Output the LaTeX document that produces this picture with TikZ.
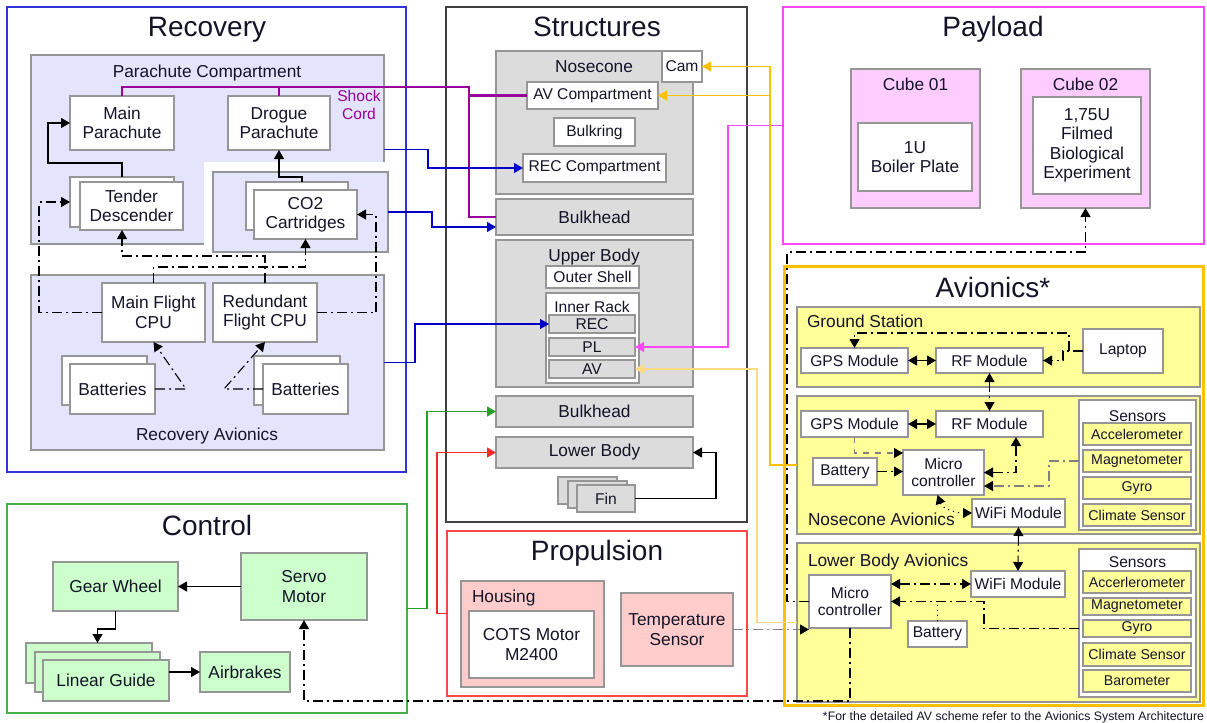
\documentclass[tikz,border=0pt]{standalone}
\usepackage{fontspec}
\setmainfont{Liberation Sans}
\usetikzlibrary{arrows.meta}

\definecolor{txt}{RGB}{20,20,40}
\definecolor{recblue}{RGB}{50,50,220}
\definecolor{lav}{RGB}{228,228,252}
\definecolor{bord}{RGB}{150,150,150}
\definecolor{gfill}{RGB}{220,220,220}
\definecolor{ctlgreen}{RGB}{70,175,70}
\definecolor{lgreen}{RGB}{204,255,204}
\definecolor{propred}{RGB}{255,70,70}
\definecolor{lpink}{RGB}{255,204,204}
\definecolor{plmag}{RGB}{255,70,255}
\definecolor{lmag}{RGB}{255,204,255}
\definecolor{avgold}{RGB}{255,192,0}
\definecolor{lyel}{RGB}{255,255,153}
\definecolor{lgold}{RGB}{255,218,130}
\definecolor{cord}{RGB}{153,0,153}
\definecolor{lineblue}{RGB}{0,0,200}
\definecolor{linegreen}{RGB}{40,160,40}
\definecolor{linered}{RGB}{255,40,40}

% box from corner (#2,#3) to corner (#4,#5), coordinates in pixels
\newcommand\mkbox[7]{%
  \pgfmathsetmacro\mkboxw{(#4-#2)*0.5}%
  \pgfmathsetmacro\mkboxh{(#5-#3)*0.5}%
  \node[#6,minimum width=\mkboxw pt,minimum height=\mkboxh pt] (#1) at ({(#2+#4)/2},{(#3+#5)/2}) {#7};}

\tikzset{
  every node/.style={inner sep=0pt,outer sep=0pt,text=txt,align=center},
  fbig/.style={font=\fontsize{8.65}{9.7}\selectfont},
  fsml/.style={font=\fontsize{7.8}{8.6}\selectfont},
  ftny/.style={font=\fontsize{7.1}{8}\selectfont},
  fttl/.style={font=\fontsize{14}{16}\selectfont},
  outerframe/.style={draw,line width=0.6pt},
  grp/.style={draw=bord,line width=0.7pt},
  wbox/.style={grp,fill=white},
  gbox/.style={grp,fill=gfill},
  lavbox/.style={grp,fill=lav},
  grnbox/.style={grp,fill=lgreen},
  pkbox/.style={grp,fill=lpink},
  mgbox/.style={grp,fill=lmag},
  ylbox/.style={grp,fill=lyel},
  con/.style={line width=0.55pt},
  dd/.style={dash pattern=on 5pt off 2pt on 1pt off 2pt},
  cordl/.style={draw=cord,line width=1.2pt},
  >={Triangle[length=4.5pt,width=5pt]},
  blk/.style={-{Triangle[length=4.5pt,width=5pt,color=black,fill=black]}},
}

\begin{document}
\begin{tikzpicture}[x=0.5pt,y=-0.5pt]
\useasboundingbox (0,0) rectangle (1207,723);
\fill[white] (0,0) rectangle (1207,723);

% ---------- outer frames ----------
\mkbox{recov}{7}{7}{406}{472}{outerframe,draw=recblue}{}
\mkbox{struct}{446}{7}{747}{522}{outerframe,draw=black!75}{}
\mkbox{pay}{783}{7}{1204}{244}{outerframe,draw=plmag}{}
\mkbox{avio}{784}{266}{1203}{705}{draw=avgold,line width=1.5pt}{}
\mkbox{ctl}{7}{504}{407}{713}{outerframe,draw=ctlgreen}{}
\mkbox{prop}{447}{531}{747}{696}{outerframe,draw=propred}{}

\node[fttl,anchor=base] (tRec) at (207,36) {Recovery};
\node[fttl,anchor=base] (tStr) at (597,36.5) {Structures};
\node[fttl,anchor=base] (tPay) at (993,36.5) {Payload};
\node[fttl,anchor=base] (tAv) at (993,297) {Avionics*};
\node[fttl,anchor=base] (tCtl) at (207,535) {Control};
\node[fttl,anchor=base] (tProp) at (597,560.5) {Propulsion};

% ---------- Recovery ----------
\mkbox{pc}{31}{55}{384}{244}{lavbox}{}
\fill[white] (204,162) rectangle (392,257);
\mkbox{co2g}{213}{172}{388}{252}{lavbox}{}
\mkbox{ra}{31}{275}{384}{450}{lavbox}{}
\node[fbig,anchor=base] (lpc) at (207,77) {Parachute Compartment};
\node[fbig,anchor=base] (lra) at (207,440) {Recovery Avionics};
\mkbox{mainp}{70}{96}{174}{150}{wbox,fbig}{Main\\Parachute}
\mkbox{drog}{228}{96}{330}{150}{wbox,fbig}{Drogue\\Parachute}
\node[fsml,text=cord] (lsc) at (359,105) {Shock\\Cord};
\mkbox{tdB}{70}{177}{174}{227}{wbox}{}
\mkbox{tdF}{80}{182}{183}{230}{wbox,fbig}{Tender\\Descender}
\mkbox{cB}{246}{182}{348}{230}{wbox}{}
\mkbox{cF}{254}{190}{357}{239}{wbox,fbig}{CO2\\Cartridges}
\mkbox{mcpu}{102}{283}{205}{342}{wbox,fbig}{Main Flight\\CPU}
\mkbox{rcpu}{213}{283}{317}{342}{wbox,fbig}{Redundant\\Flight CPU}
\mkbox{bLB}{62}{356}{147}{405}{wbox}{}
\mkbox{bLF}{70}{364}{155}{414}{wbox,fbig}{Batteries}
\mkbox{bRB}{254}{356}{340}{405}{wbox}{}
\mkbox{bRF}{263}{364}{348}{414}{wbox,fbig}{Batteries}

% ---------- Structures ----------
\mkbox{nose}{496}{51}{693}{194}{gbox}{}
\node[fbig,anchor=base] (lnose) at (594,72) {Nosecone};
\mkbox{cam}{662}{51}{702}{82}{wbox,fsml}{Cam}
\mkbox{avc}{527}{82}{658}{109}{wbox,fsml}{AV Compartment}
\mkbox{bkr}{554}{118}{635}{146}{wbox,fsml}{Bulkring}
\mkbox{recc}{523}{154}{666}{182}{wbox,fsml}{REC Compartment}
\mkbox{bulk1}{496}{199}{693}{235}{gbox,fbig}{Bulkhead}
\mkbox{upb}{496}{240}{693}{387}{gbox}{}
\node[fbig,anchor=base] (lupb) at (594,261) {Upper Body};
\mkbox{osh}{546}{266}{639}{288}{wbox,fsml}{Outer Shell}
\mkbox{irk}{546}{293}{639}{383}{wbox}{}
\node[fsml,anchor=base] (lirk) at (592,312) {Inner Rack};
\mkbox{rec}{549}{315}{635}{333}{gbox,fsml}{REC}
\mkbox{pl}{549}{338}{635}{356}{gbox,fsml}{PL}
\mkbox{av}{549}{360}{635}{378}{gbox,fsml}{AV}
\mkbox{bulk2}{496}{396}{693}{427}{gbox,fbig}{Bulkhead}
\mkbox{lowb}{496}{437}{693}{468}{gbox,fbig}{Lower Body}
\mkbox{fin1}{558}{477}{617}{504}{gbox}{}
\mkbox{fin2}{568}{481}{627}{508}{gbox}{}
\mkbox{fin3}{577}{485}{635}{512}{gbox,fsml}{Fin}

% ---------- Payload ----------
\mkbox{c1}{851}{69}{980}{208}{mgbox}{}
\node[fbig,anchor=base] (lc1) at (915.5,90) {Cube 01};
\mkbox{c1in}{858}{123}{972}{191}{wbox,fbig}{1U\\Boiler Plate}
\mkbox{c2}{1021}{69}{1150}{208}{mgbox}{}
\node[fbig,anchor=base] (lc2) at (1085.5,90) {Cube 02};
\mkbox{c2in}{1033}{97}{1141}{194}{wbox,fbig}{1,75U\\Filmed\\Biological\\Experiment}

% ---------- Avionics ----------
\mkbox{gs}{797}{307}{1200}{387}{ylbox}{}
\node[fbig,anchor=base west] (lgs) at (807,327) {Ground Station};
\mkbox{gsgps}{801}{348}{908}{373}{wbox,fsml}{GPS Module}
\mkbox{gsrf}{936}{348}{1043}{373}{wbox,fsml}{RF Module}
\mkbox{lap}{1083}{329}{1163}{373}{wbox,fsml}{Laptop}

\mkbox{ncav}{797}{396}{1200}{534}{ylbox}{}
\node[fbig,anchor=base west] (lncav) at (808,525) {Nosecone Avionics};
\mkbox{ncgps}{801}{411}{908}{437}{wbox,fsml}{GPS Module}
\mkbox{ncrf}{936}{411}{1043}{437}{wbox,fsml}{RF Module}
\mkbox{ncbat}{813}{458}{877}{485}{wbox,fsml}{Battery}
\mkbox{ncmc}{903}{450}{984}{495}{wbox,fsml}{Micro\\controller}
\mkbox{ncwifi}{972}{499}{1065}{527}{wbox,fsml}{WiFi Module}
\mkbox{ncsens}{1079}{400}{1196}{530}{wbox}{}
\node[fsml,anchor=base] (lncs) at (1137.5,421) {Sensors};
\mkbox{ncacc}{1083}{423}{1191}{445}{ylbox,ftny}{Accelerometer}
\mkbox{ncmag}{1083}{450}{1191}{472}{ylbox,ftny}{Magnetometer}
\mkbox{ncgyr}{1083}{477}{1191}{499}{ylbox,ftny}{Gyro}
\mkbox{nccli}{1083}{504}{1191}{526}{ylbox,ftny}{Climate Sensor}

\mkbox{lbav}{797}{543}{1200}{702}{ylbox}{}
\node[fbig,anchor=base west] (llbav) at (808,566) {Lower Body Avionics};
\mkbox{lbmc}{809}{575}{891}{628}{wbox,fsml}{Micro\\controller}
\mkbox{lbwifi}{971}{571}{1065}{597}{wbox,fsml}{WiFi Module}
\mkbox{lbbat}{908}{621}{967}{647}{wbox,fsml}{Battery}
\mkbox{lbsens}{1079}{549}{1196}{697}{wbox}{}
\node[fsml,anchor=base] (llbs) at (1137.5,567) {Sensors};
\mkbox{lbacc}{1083}{571}{1191}{593}{ylbox,ftny}{Accerlerometer}
\mkbox{lbmag}{1083}{598}{1191}{615}{ylbox,ftny}{Magnetometer}
\mkbox{lbgyr}{1083}{620}{1191}{637}{ylbox,ftny}{Gyro}
\mkbox{lbcli}{1083}{643}{1191}{666}{ylbox,ftny}{Climate Sensor}
\mkbox{lbbar}{1083}{670}{1191}{692}{ylbox,ftny}{Barometer}

% ---------- Control ----------
\mkbox{gear}{53}{562}{178}{611}{grnbox,fbig}{Gear Wheel}
\mkbox{servo}{241}{553}{367}{620}{grnbox,fbig}{Servo\\Motor}
\mkbox{lgB}{26}{643}{152}{683}{grnbox}{}
\mkbox{lgM}{35}{652}{160}{692}{grnbox}{}
\mkbox{lgF}{43}{660}{169}{701}{grnbox,fbig}{Linear Guide}
\mkbox{air}{200}{652}{290}{692}{grnbox,fbig}{Airbrakes}

% ---------- Propulsion ----------
\mkbox{hous}{461}{581}{604}{687}{pkbox}{}
\node[fbig,anchor=base west] (lhous) at (472,602) {Housing};
\mkbox{cots}{469}{611}{594}{678}{wbox,fbig}{COTS Motor\\M2400}
\mkbox{ts}{621}{593}{733}{666}{pkbox,fbig}{Temperature\\Sensor}

\node[font=\fontsize{6.15}{7.5}\selectfont,anchor=base east] (note) at (1204,720.5)
  {*For the detailed AV scheme refer to the Avionics System Architecture};

% ---------- connectors: recovery ----------
\draw[cordl] (mainp.north) |- (469,87) |- (bulk1.west);
\draw[cordl] (drog.north) -- (279,87);
\draw[cordl] (469,95.5) -- (avc.west);

\draw[con,->] (tdB.north) |- (48,163) |- (mainp.west);
\draw[con,->] ([xshift=2.5pt]cB.north) |- (279,177) -- (drog.south);
\draw[con,dd,->] (mcpu.west) -| (39,202) -- (tdB.west);
\draw[con,dd,->] (rcpu.east) -| (376,214.5) -- (cF.east);
\draw[con,dd,->] (mcpu.north) |- (305.5,267) -- (cF.south);
\draw[con,dd,->] (rcpu.north) |- (122,256) -- (tdF.south -| tdB.south);
\draw[con,dd,->] (bLF.east) -- (186,389) -- (mcpu.south);
\draw[con,dd,->] (bRF.west) -- (224,389) -- (rcpu.south);

% ---------- connectors: between subsystems ----------
\draw[con,->,lineblue] (pc.east) -- (428,149.5) |- (recc.west);
\draw[con,->,lineblue] (co2g.east) -- (432,212) |- ([yshift=-5pt]bulk1.west);
\draw[con,->,lineblue] (ra.east) -- (415,362.5) |- (rec.west);
\draw[con,->,linegreen] (ctl.east) -- (427,608.5) |- (bulk2.west);
\draw[con,->,linered] (prop.west) -- (437,613.5) |- (lowb.west);
\draw[con,->,plmag] (pay.west) -- (728,125.5) |- (pl.east);
\draw[con,->,avgold] (ncav.west) -- (770,465) |- (cam.east);
\draw[con,->,avgold] (770,95.5) -- (avc.east);
\draw[con,->,lgold,line width=0.8pt] (lbav.west) -- (757,622.5) |- (av.east);
\draw[con,dd,gray,blk] (ts.east) -- (ts.east -| lbmc.west);
\draw[con,dd,->] (lbmc.south) -- (850,701) -| (servo.south);
\draw[con,dd,->] (lbmc.west) -| (787,252) -| (c2.south);

% ---------- connectors: structures ----------
\draw[con,->] (fin3.east) -- (716,498.5) |- (lowb.east);

% ---------- connectors: control ----------
\draw[con,->] (servo.west) -- (gear.east);
\draw[con,->] (gear.south) |- (97.5,629) -- (lgB.north -| lgM.north);
\draw[con,->] (air.west -| lgF.east) -- (air.west);

% ---------- connectors: avionics ----------
\draw[con,<->] (gsgps.east) -- (gsrf.west);
\draw[con,dd,->] (lap.west) -- (1063,351) |- (gsrf.east);
\draw[con,dd,->] (1069,351) -- (1069,333) -| (gsgps.north);
\draw[con,dd,<->] (gsrf.south) -- (ncrf.north);
\draw[con,<->] (ncgps.east) -- (ncrf.west);
\draw[con,dashed,gray,blk] (ncgps.south) |- ([yshift=9.75pt]ncmc.west);
\draw[con,dd,->] (ncbat.east) -- (ncbat.east -| ncmc.west);
\draw[con,dd,<->] (ncmc.east) -| ([xshift=13.25pt]ncrf.south);
\draw[con,dd,gray,blk] (ncmag.west -| ncsens.west) -- (1049,461) |- ([yshift=-6.75pt]ncmc.east);
\draw[con,dotted,<->] ([xshift=-3pt]ncmc.south) to[out=-70,in=180] (ncwifi.west);
\draw[con,dd,<->] (ncwifi.south) -- (lbwifi.north);
\draw[con,dd,<->] (lbwifi.west -| lbmc.east) -- (lbwifi.west);
\draw[con,dd,->] (lbgyr.west -| lbsens.west) -- (984,628.5) |- (lbmc.east);
\draw[con,dotted] (lbbat.north) -- (937.5,601.5);
\end{tikzpicture}
\end{document}
